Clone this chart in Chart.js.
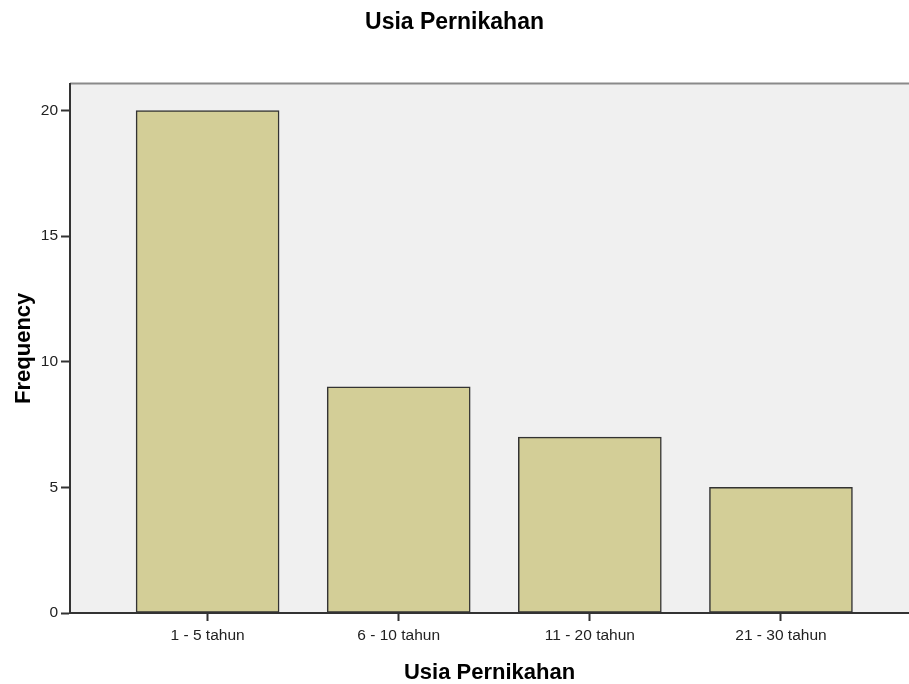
<!DOCTYPE html>
<html>
<head>
<meta charset="utf-8">
<script src="https://cdn.jsdelivr.net/npm/chart.js@4/dist/chart.umd.min.js"></script>
<style>
  html, body { margin: 0; padding: 0; background: #fff; }
  #wrap { width: 909px; height: 684px; }
</style>
</head>
<body>
<div id="wrap"><canvas id="chart" width="909" height="684"></canvas></div>
<script>
const categories = ["1 - 5 tahun", "6 - 10 tahun", "11 - 20 tahun", "21 - 30 tahun"];
const frequency = [20, 9, 7, 5];
const yTicks = [0, 5, 10, 15, 20];

const FONT = "'Liberation Sans', Arial, sans-serif";

// plot background + top border like SPSS
const plotBg = {
  id: "plotBg",
  beforeDraw(chart) {
    const { ctx, chartArea: a } = chart;
    ctx.save();
    ctx.fillStyle = "#f0f0f0";
    ctx.fillRect(a.left, a.top, a.right - a.left, a.bottom - a.top);
    ctx.strokeStyle = "#8a8a8a";
    ctx.lineWidth = 2;
    ctx.beginPath();
    ctx.moveTo(a.left, a.top);
    ctx.lineTo(a.right, a.top);
    ctx.stroke();
    ctx.restore();
  }
};

new Chart(document.getElementById("chart"), {
  type: "bar",
  data: {
    datasets: [{
      label: "Frequency",
      data: frequency.map((v, i) => ({ x: i, y: v })),
      backgroundColor: "#d3ce97",
      borderColor: "#333333",
      borderWidth: 1.5,
      borderSkipped: false,
      barThickness: 143
    }]
  },
  options: {
    responsive: false,
    animation: false,
    layout: { padding: { left: 0, right: 0, top: 0, bottom: 0 } },
    plugins: {
      legend: { display: false },
      tooltip: { enabled: false },
      title: {
        display: true,
        text: "Usia Pernikahan",
        color: "#000",
        font: { family: FONT, size: 23, weight: "bold" },
        padding: { top: 9, bottom: 47 }
      }
    },
    scales: {
      x: {
        type: "linear",
        offset: false,
        min: -0.72,
        max: 3.67,
        afterBuildTicks: s => { s.ticks = categories.map((c, i) => ({ value: i })); },
        afterFit: s => { s.height = 71; },
        ticks: {
          autoSkip: false,
          maxRotation: 0,
          padding: 5,
          color: "#222",
          font: { family: FONT, size: 15.5 },
          callback: v => categories[v]
        },
        grid: {
          display: true,
          offset: false,
          drawOnChartArea: false,
          drawTicks: true,
          tickLength: 8,
          tickWidth: 2,
          tickColor: "#333"
        },
        border: { display: true, color: "#333", width: 2 },
        title: {
          display: true,
          text: "Usia Pernikahan",
          color: "#000",
          font: { family: FONT, size: 22, weight: "bold" },
          padding: { top: 0, bottom: -2 }
        }
      },
      y: {
        min: 0,
        max: 21.07,
        afterBuildTicks: s => { s.ticks = yTicks.map(v => ({ value: v })); },
        afterFit: s => { s.width = 70; },
        ticks: {
          padding: 3,
          color: "#222",
          font: { family: FONT, size: 15.5 }
        },
        grid: {
          display: true,
          drawOnChartArea: false,
          drawTicks: true,
          tickLength: 9,
          tickWidth: 2,
          tickColor: "#333"
        },
        border: { display: true, color: "#333", width: 2 },
        title: {
          display: true,
          text: "Frequency",
          color: "#000",
          font: { family: FONT, size: 22, weight: "bold" },
          padding: { top: 11, bottom: 0 }
        }
      }
    }
  },
  plugins: [plotBg]
});
</script>
</body>
</html>
